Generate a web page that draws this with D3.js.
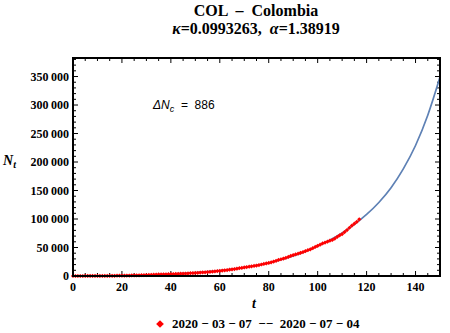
<!DOCTYPE html>
<html>
<head>
<meta charset="utf-8">
<script src="https://cdn.jsdelivr.net/npm/d3@7"></script>
<style>
  body { margin: 0; background: #fff; }
  text { font-family: "Liberation Serif", "Times New Roman", serif; white-space: pre; }
</style>
</head>
<body>
<script>
// observed cases, one per day from 2020-03-07
var days = d3.range(0, 118);
var cases = [1, 1, 1, 3, 3, 9, 13, 22, 34, 54,
    65, 93, 102, 128, 196, 231, 277, 378, 470, 491,
    539, 608, 702, 798, 906, 1065, 1161, 1267, 1406, 1485,
    1579, 1780, 2054, 2223, 2473, 2709, 2776, 2852, 2979, 3105,
    3233, 3439, 3621, 3792, 3977, 4149, 4356, 4561, 4881, 5142,
    5379, 5597, 5949, 6207, 6507, 7006, 7285, 7668, 7973, 8613,
    8959, 9456, 10051, 10495, 11063, 11613, 12272, 12930, 13610, 14216,
    14939, 15574, 16295, 16935, 17687, 18330, 19131, 20177, 21175, 21981,
    23003, 24104, 25366, 26688, 28236, 29383, 30493, 31833, 33354, 35120,
    36635, 38027, 39236, 40719, 42078, 43682, 45212, 46858, 48746, 50939,
    53063, 54931, 57046, 58600, 60217, 62000, 63276, 65633, 68836, 71367,
    73572, 77113, 80599, 84660, 88591, 91769, 95043, 99500];

// fitted model curve, read every 5 days
var fitT = d3.range(0, 155, 5);
var fitN = [0, 20, 80, 230, 500, 900, 1500, 2300, 3300, 4500,
    5900, 7600, 9600, 12000, 15000, 18600, 23000, 28500, 35000, 43000,
    52500, 63000, 75500, 90500, 108000, 129000, 155000, 188000, 229000, 282000,
    349000];

var xTicks = [0, 20, 40, 60, 80, 100, 120, 140];
var yTicks = [0, 50000, 100000, 150000, 200000, 250000, 300000, 350000];

var width = 450, height = 333;
var pLeft = 73, pRight = 440, pTop = 58, pBottom = 276;

var svg = d3.select("body").append("svg")
    .attr("width", width)
    .attr("height", height);

var x = d3.scaleLinear().domain([0, 150]).range([pLeft, pRight]);
var y = d3.scaleLinear().domain([0, 382500]).range([pBottom, pTop]);

var fmt = function (d) {
    return d3.format(",")(d).replace(/,/g, "\u2009");
};

// title
svg.append("text")
    .attr("x", 256).attr("y", 16)
    .attr("text-anchor", "middle")
    .style("font-size", "16px").style("font-weight", "bold")
    .text("COL  \u2013  Colombia");
var t2 = svg.append("text")
    .attr("x", 256).attr("y", 34)
    .attr("text-anchor", "middle")
    .style("font-size", "16px").style("font-weight", "bold");
t2.append("tspan").style("font-style", "italic").text("\u03ba");
t2.append("tspan").text("=0.0993263,  ");
t2.append("tspan").style("font-style", "italic").text("\u03b1");
t2.append("tspan").text("=1.38919");

// minor and major ticks, inward on all four sides
var xMinor = d3.range(0, 151, 5);
var yMinor = d3.range(0, 380001, 10000);
var tg = svg.append("g").attr("stroke", "#000");
xMinor.forEach(function (v) {
    var len = v % 20 === 0 ? 5 : 3;
    tg.append("line").attr("x1", x(v)).attr("x2", x(v))
        .attr("y1", pBottom).attr("y2", pBottom - len);
    tg.append("line").attr("x1", x(v)).attr("x2", x(v))
        .attr("y1", pTop).attr("y2", pTop + len);
});
yMinor.forEach(function (v) {
    var len = v % 50000 === 0 ? 5 : 3;
    tg.append("line").attr("y1", y(v)).attr("y2", y(v))
        .attr("x1", pLeft).attr("x2", pLeft + len);
    tg.append("line").attr("y1", y(v)).attr("y2", y(v))
        .attr("x1", pRight).attr("x2", pRight - len);
});

// fitted curve
var line = d3.line()
    .x(function (d, i) { return x(fitT[i]); })
    .y(function (d) { return y(d); })
    .curve(d3.curveMonotoneX);
svg.append("path")
    .attr("d", line(fitN))
    .attr("fill", "none")
    .attr("stroke", "#5e81b5")
    .attr("stroke-width", 1.7);

// data points (small rotated squares)
var marker = d3.symbol().type(d3.symbolSquare).size(9);
svg.append("g").selectAll("path")
    .data(cases)
    .enter()
    .append("path")
    .attr("d", marker)
    .attr("transform", function (d, i) {
        return "translate(" + x(days[i]) + "," + y(d) + ") rotate(45)";
    })
    .attr("fill", "#ff0000");

// frame
svg.append("rect")
    .attr("x", pLeft).attr("y", pTop)
    .attr("width", pRight - pLeft).attr("height", pBottom - pTop)
    .attr("fill", "none").attr("stroke", "#000").attr("stroke-width", 2);

// axis labels
svg.append("g").selectAll("text")
    .data(xTicks).enter().append("text")
    .attr("x", function (d) { return x(d); })
    .attr("y", pBottom + 15)
    .attr("text-anchor", "middle")
    .style("font-size", "12px").style("font-weight", "bold")
    .text(function (d) { return d; });
svg.append("g").selectAll("text")
    .data(yTicks).enter().append("text")
    .attr("x", pLeft - 4)
    .attr("y", function (d) { return y(d) + 4; })
    .attr("text-anchor", "end")
    .style("font-size", "12px").style("font-weight", "bold")
    .text(fmt);

var yl = svg.append("text")
    .attr("x", 3).attr("y", 165)
    .style("font-size", "14px").style("font-weight", "bold").style("font-style", "italic");
yl.append("tspan").text("N");
yl.append("tspan").attr("dy", 3).style("font-size", "10px").text("t");

svg.append("text")
    .attr("x", 254).attr("y", 308)
    .attr("text-anchor", "middle")
    .style("font-size", "14px").style("font-weight", "bold").style("font-style", "italic")
    .text("t");

// annotation
var an = svg.append("text")
    .attr("x", 153).attr("y", 109)
    .style("font-family", "'Liberation Sans', Arial, sans-serif")
    .style("font-size", "12px");
an.append("tspan").style("font-style", "italic").text("\u0394N");
an.append("tspan").attr("dy", 3).style("font-style", "italic").style("font-size", "9px").text("c");
an.append("tspan").attr("dy", -3).text("  =  886");

// legend
svg.append("path")
    .attr("d", d3.symbol().type(d3.symbolSquare).size(30))
    .attr("transform", "translate(160,324) rotate(45)")
    .attr("fill", "#ff0000");
svg.append("text")
    .attr("x", 172).attr("y", 328)
    .style("font-size", "13px").style("font-weight", "bold")
    .text("2020 \u2212 03 \u2212 07  \u2212\u2212  2020 \u2212 07 \u2212 04");
</script>
</body>
</html>
